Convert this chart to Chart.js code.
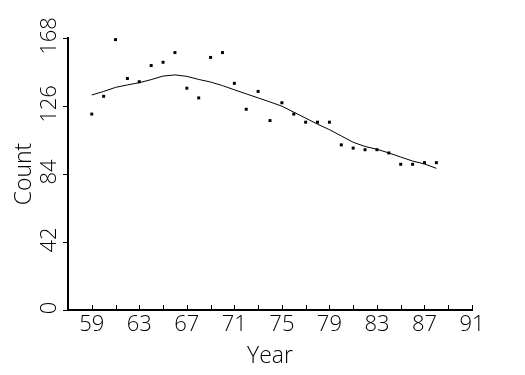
<!DOCTYPE html>
<html lang="en">
<head>
  <meta charset="UTF-8">
  <title>Count by Year</title>
  <script src="https://cdn.jsdelivr.net/npm/chart.js"></script>
  <style>
    html, body { margin: 0; padding: 0; background: #fff; }
    #chart { display: block; }
  </style>
</head>
<body>
  <canvas id="chart" width="525" height="375"></canvas>

  <script>
    // Data
    const years = [59, 60, 61, 62, 63, 64, 65, 66, 67, 68, 69, 70, 71, 72, 73,
                   74, 75, 76, 77, 78, 79, 80, 81, 82, 83, 84, 85, 86, 87, 88];
    const counts = [121, 132, 167, 143, 141, 151, 153, 159, 137, 131, 156, 159, 140, 124, 135,
                    117, 128, 121, 116, 116, 116, 102, 100, 99, 99, 97, 90, 90, 91, 91];
    const smoothed = [132.8, 135.0, 137.5, 139.0, 140.4, 142.3, 144.5, 145.2, 144.3, 142.4, 140.8, 138.6, 136.0, 133.5, 131.0,
                      128.5, 125.9, 122.2, 118.5, 114.8, 111.4, 107.5, 103.6, 101.0, 99.3, 97.0, 94.5, 92.0, 90.2, 87.5];
    const xTicks = [59, 61, 63, 65, 67, 69, 71, 73, 75, 77, 79, 81, 83, 85, 87, 89, 91];
    const xLabels = [59, 63, 67, 71, 75, 79, 83, 87, 91];
    const yTicks = [0, 42, 84, 126, 168];

    const FONT = "'Open Sans', 'DejaVu Sans', sans-serif";
    const WEIGHT = 300;

    // inward x ticks and rotated y labels
    const axisExtras = {
      id: 'axisExtras',
      afterDraw(chart) {
        const ctx = chart.ctx;
        const xs = chart.scales.x;
        const ys = chart.scales.y;
        const area = chart.chartArea;
        ctx.save();
        ctx.strokeStyle = '#000';
        ctx.lineWidth = 1;
        xTicks.forEach(v => {
          const px = Math.round(xs.getPixelForValue(v)) + 0.5;
          ctx.beginPath();
          ctx.moveTo(px, area.bottom);
          ctx.lineTo(px, area.bottom - 5);
          ctx.stroke();
        });
        ctx.fillStyle = '#000';
        ctx.font = WEIGHT + ' 22px ' + FONT;
        ctx.textAlign = 'center';
        ctx.textBaseline = 'middle';
        yTicks.forEach(v => {
          const py = ys.getPixelForValue(v);
          ctx.save();
          ctx.translate(50, py - 2);
          ctx.rotate(-Math.PI / 2);
          ctx.fillText(String(v), 0, 0);
          ctx.restore();
        });
        ctx.restore();
      }
    };

    const ctx = document.getElementById('chart').getContext('2d');
    new Chart(ctx, {
      type: 'scatter',
      data: {
        datasets: [
          {
            label: 'Count',
            data: years.map((y, i) => ({ x: y, y: counts[i] })),
            pointStyle: 'rect',
            pointRadius: 2.1,
            pointBorderWidth: 0,
            backgroundColor: '#000',
            borderColor: '#000',
            showLine: false
          },
          {
            label: 'Smooth',
            data: years.map((y, i) => ({ x: y, y: smoothed[i] })),
            showLine: true,
            pointRadius: 0,
            borderColor: '#000',
            borderWidth: 1,
            tension: 0
          }
        ]
      },
      options: {
        responsive: false,
        animation: false,
        layout: { padding: { top: 38, right: 53, left: 0, bottom: 0 } },
        plugins: {
          legend: { display: false },
          tooltip: { enabled: false }
        },
        scales: {
          x: {
            type: 'linear',
            min: 57,
            max: 91,
            afterBuildTicks: s => { s.ticks = xTicks.map(v => ({ value: v })); },
            afterFit: s => { s.height = 65; },
            grid: { display: false, drawTicks: false },
            border: { display: true, color: '#000', width: 2 },
            ticks: {
              autoSkip: false,
              maxRotation: 0,
              minRotation: 0,
              padding: 2,
              color: '#000',
              font: { family: FONT, size: 22, weight: WEIGHT },
              callback: v => xLabels.includes(v) ? String(v) : ''
            },
            title: {
              display: true,
              text: 'Year',
              color: '#000',
              font: { family: FONT, size: 23, weight: WEIGHT },
              padding: { top: 0, bottom: 5 }
            }
          },
          y: {
            min: 0,
            max: 168,
            afterBuildTicks: s => { s.ticks = yTicks.map(v => ({ value: v })); },
            afterFit: s => { s.width = 68; },
            grid: { display: true, drawOnChartArea: false, drawTicks: true, tickLength: 5, color: '#000' },
            border: { display: true, color: '#000', width: 2 },
            ticks: { display: false },
            title: {
              display: true,
              text: 'Count',
              color: '#000',
              font: { family: FONT, size: 23, weight: WEIGHT },
              padding: { top: 11, bottom: 0 }
            }
          }
        }
      },
      plugins: [axisExtras]
    });
  </script>
</body>
</html>
